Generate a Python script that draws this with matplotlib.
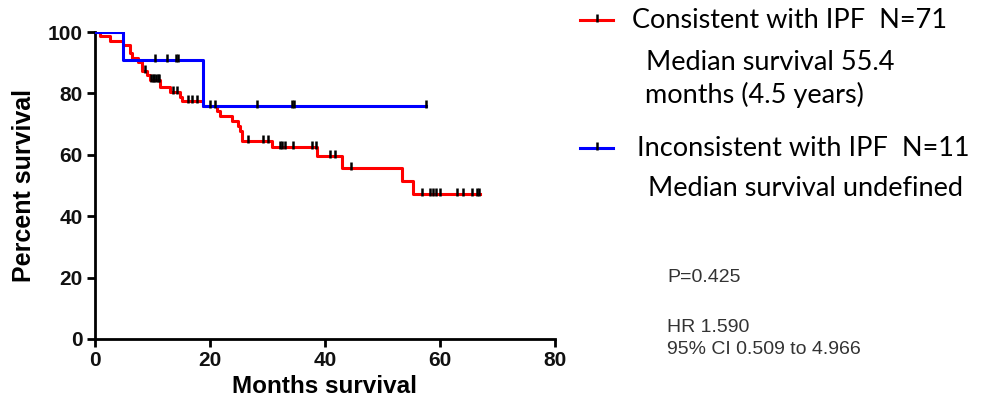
import numpy as np
import matplotlib
matplotlib.use("Agg")
import matplotlib.pyplot as plt
from matplotlib.lines import Line2D
from matplotlib.path import Path

# Kaplan-Meier steps (time in months, percent surviving)
ipf_times = [0, 0.8, 2.6, 4.9, 6.1, 6.4, 7.5, 8.2, 9.0, 9.6, 11.3, 13.0, 14.8, 15.1,
             18.8, 21.2, 21.7, 23.8, 24.9, 25.2, 25.5, 30.8, 38.6, 42.9, 53.4, 55.3, 67.0]
ipf_surv = [100, 98.6, 97.2, 95.8, 93.0, 91.5, 90.1, 87.3, 85.9, 84.5, 82.0, 80.5, 78.9, 77.4,
            75.8, 74.2, 72.6, 71.0, 69.4, 67.8, 64.6, 62.5, 59.5, 55.6, 51.5, 47.3, 47.3]
ipf_censored = [8.7, 9.8, 10.0, 10.3, 10.6, 10.9, 11.2, 13.6, 14.3, 16.2, 16.9, 17.7,
                20.0, 20.9, 26.6, 29.2, 30.1, 32.2, 32.6, 33.0, 34.4, 37.7, 38.5,
                40.9, 41.7, 44.5, 56.9, 58.3, 58.8, 59.3, 60.0, 63.0, 64.0, 65.6,
                66.4, 66.8]

non_times = [0, 4.9, 18.8, 57.6]
non_surv = [100, 90.9, 75.8, 75.8]
non_censored = [10.5, 12.6, 14.0, 14.4, 28.2, 34.3, 34.6, 57.6]

x_ticks = [0, 20, 40, 60, 80]
y_ticks = [0, 20, 40, 60, 80, 100]

W, H = 981, 407
fig = plt.figure(figsize=(W / 100, H / 100), dpi=100)
ax = fig.add_axes([95 / W, 1 - 339 / H, 460 / W, 307 / H])

# censor tick, sitting mostly above the line
tick = Path([(0, -0.35), (0, 1.0)], [Path.MOVETO, Path.LINETO])


def draw_km(times, surv, censored, color):
    ax.step(times, surv, where="post", color=color, lw=2.2, zorder=3)
    idx = np.searchsorted(times, censored, side="right") - 1
    cy = np.asarray(surv)[idx]
    ax.plot(censored, cy, ls="none", marker=tick, ms=9, mew=1.8,
            color="black", zorder=4)


draw_km(ipf_times, ipf_surv, ipf_censored, "#ff0000")
draw_km(non_times, non_surv, non_censored, "#0000ff")

ax.set_xlim(0, 80)
ax.set_ylim(0, 100)
ax.set_xticks(x_ticks)
ax.set_yticks(y_ticks)
for s in ["top", "right"]:
    ax.spines[s].set_visible(False)
for s in ["left", "bottom"]:
    ax.spines[s].set_linewidth(2)
ax.tick_params(width=2, length=6, labelsize=15, pad=3)
for lab in ax.get_xticklabels() + ax.get_yticklabels():
    lab.set_fontfamily("Liberation Sans")
    lab.set_fontweight("bold")
    lab.set_color("#111111")
ax.set_xlabel("Months survival", fontsize=17.5, fontweight="bold",
              family="Liberation Sans", labelpad=3)
ax.set_ylabel("Percent survival", fontsize=18, fontweight="bold",
              family="Liberation Sans", labelpad=8)


def fx(px):
    return px / W


def fy(py):
    return 1 - py / H


# legend, drawn by hand
for py, color in [(20, "#ff0000"), (148, "#0000ff")]:
    fig.add_artist(Line2D([fx(580), fx(613)], [fy(py), fy(py)], color=color, lw=2.2))
    fig.add_artist(Line2D([fx(597)], [fy(py)], ls="none", marker=tick, ms=9,
                          mew=1.8, color="black"))

leg_font = dict(family="Lato", fontsize=19.5, color="black", va="center")
fig.text(fx(632), fy(20), "Consistent with IPF  N=71", **leg_font)
fig.text(fx(646), fy(62), "Median survival 55.4", **leg_font)
fig.text(fx(645), fy(95), "months (4.5 years)", **leg_font)
fig.text(fx(637), fy(148), "Inconsistent with IPF  N=11", **leg_font)
fig.text(fx(648), fy(188), "Median survival undefined", **leg_font)

stat_font = dict(family="Liberation Sans", fontsize=14, color="#333333", va="center")
fig.text(fx(667), fy(277), "P=0.425", **stat_font)
fig.text(fx(667), fy(328), "HR 1.590", **stat_font)
fig.text(fx(667), fy(350), "95% CI 0.509 to 4.966", **stat_font)

fig.savefig("out.png", dpi=100)
